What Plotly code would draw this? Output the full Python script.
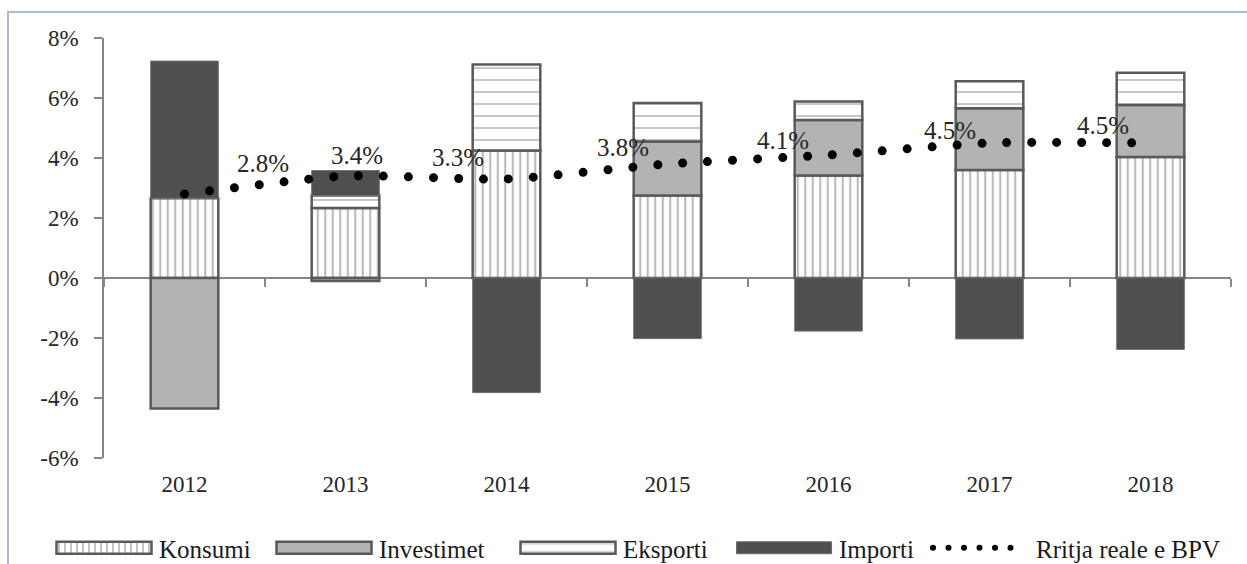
import plotly.graph_objects as go

# ---------------- data ----------------
years = ["2012", "2013", "2014", "2015", "2016", "2017", "2018"]
konsumi = [2.66, 2.33, 4.25, 2.75, 3.42, 3.60, 4.03]
investimet = [-4.35, -0.10, None, 1.80, 1.85, 2.06, 1.74]
eksporti = [None, 0.42, 2.87, 1.28, 0.61, 0.90, 1.07]
importi = [4.57, 0.83, -3.82, -2.02, -1.77, -2.03, -2.38]
rritja = [2.8, 3.4, 3.3, 3.8, 4.1, 4.5, 4.5]
series_names = ["Konsumi", "Investimet", "Eksporti", "Importi", "Rritja reale e BPV"]
y_tick_values = [-6, -4, -2, 0, 2, 4, 6, 8]
y_tick_labels = ["-6%", "-4%", "-2%", "0%", "2%", "4%", "6%", "8%"]

# ---------------- style / layout ----------------
W, H = 1247, 564
ML, MR, MT, MB = 104, 16, 38, 106
PW, PH = W - ML - MR, H - MT - MB
FONT = "Liberation Serif"
AX = "#868686"
OUT = "#595959"
YMIN, YMAX = -6, 8
# label offsets (px) relative to each point of the growth line
label_dx = [78, 11, -49, -45, -46, -40, -48]
label_dy = [31, 21, 22, 17, 15, 13, 18]
# legend swatch left edges (px) and vertical centre
legend_left = [56, 276, 520, 736, 933]
legend_cy = 548
SWATCH_W = 95
ITEM_W = 100


def px_x(p):
    return (p - ML) / PW


def px_y(p):
    return (MT + PH - p) / PH


fig = go.Figure()

fig.add_trace(go.Bar(
    x=years, y=konsumi, name=series_names[0], legend="legend",
    marker=dict(color="white", line=dict(color=OUT, width=2.5),
                pattern=dict(shape="|", size=7.5, solidity=0.28,
                             fgcolor="#747474", fillmode="overlay")),
))
fig.add_trace(go.Bar(
    x=years, y=investimet, name=series_names[1], legend="legend2",
    marker=dict(color="#B3B3B3", line=dict(color=OUT, width=2.5)),
))
fig.add_trace(go.Bar(
    x=years, y=eksporti, name=series_names[2], legend="legend3",
    marker=dict(color="white", line=dict(color=OUT, width=2.5),
                pattern=dict(shape="-", size=12, solidity=0.14,
                             fgcolor="#7a7a7a", fillmode="overlay")),
))
fig.add_trace(go.Bar(
    x=years, y=importi, name=series_names[3], legend="legend4",
    marker=dict(color="#4F4F4F", line=dict(color="#6e6e6e", width=1)),
))
fig.add_trace(go.Scatter(
    x=years, y=rritja, name=series_names[4], legend="legend5",
    xaxis="x2", yaxis="y", mode="lines",
    line=dict(color="black", width=9, dash="0px,25px", shape="spline", smoothing=0.6),
))

for i, v in enumerate(rritja):
    fig.add_annotation(x=i, y=v, xref="x", yref="y", text=f"{v:.1f}%",
                       showarrow=False, xshift=label_dx[i], yshift=label_dy[i],
                       font=dict(family=FONT, size=25, color="#262626"))

legend_common = dict(orientation="h", xanchor="left", yanchor="middle",
                     xref="container", yref="container",
                     font=dict(family=FONT, size=25, color="#1a1a1a"),
                     itemwidth=ITEM_W, bgcolor="rgba(0,0,0,0)", borderwidth=0,
                     itemclick=False, itemdoubleclick=False)
legends = {}
for k, left in enumerate(legend_left):
    key = "legend" if k == 0 else f"legend{k + 1}"
    legends[key] = dict(legend_common, x=(left - 7) / W, y=1 - legend_cy / H)

# chart-area border (light blue, cropped at right and bottom)
fig.add_shape(type="rect", xref="paper", yref="paper",
              x0=px_x(8), x1=px_x(W + 20), y0=px_y(H + 20), y1=px_y(12),
              line=dict(color="#A9BED4", width=2), fillcolor="rgba(0,0,0,0)", layer="below")

fig.update_layout(
    width=W, height=H,
    margin=dict(l=ML, r=MR, t=MT, b=MB, autoexpand=False),
    paper_bgcolor="white", plot_bgcolor="white",
    barmode="relative", bargap=0.58,
    showlegend=True,
    **legends,
    xaxis=dict(type="category", categoryorder="array", categoryarray=years,
               range=[-0.5, 6.5], showline=False, showgrid=False, zeroline=False,
               ticks="", ticklabelstandoff=10, automargin=False,
               tickfont=dict(family=FONT, size=23, color="#262626")),
    xaxis2=dict(type="category", categoryorder="array", categoryarray=years,
                range=[-0.5, 6.5], overlaying="x", anchor="free", side="bottom",
                position=(0 - YMIN) / (YMAX - YMIN), automargin=False,
                showline=False, showgrid=False, zeroline=False, showticklabels=False,
                ticks="outside", ticklen=8, tickwidth=1.5, tickcolor=AX,
                tickson="boundaries"),
    yaxis=dict(range=[YMIN, YMAX], tickmode="array", tickvals=y_tick_values,
               ticktext=y_tick_labels, automargin=False,
               showgrid=False, showline=True, linecolor=AX, linewidth=1.5,
               ticks="outside", ticklen=8, tickwidth=1.5, tickcolor=AX,
               zeroline=True, zerolinecolor=AX, zerolinewidth=1.5,
               ticklabelstandoff=11,
               tickfont=dict(family=FONT, size=23, color="#262626")),
)

post = """
document.body.style.margin = '0';
document.documentElement.style.margin = '0';
var gd = document.getElementById('{plot_id}');
function fixStyle(){
  gd.querySelectorAll('.legendpoints path').forEach(function(p){
    var d = p.getAttribute('d') || '';
    if (d.indexOf('M6,6H-6V-6H6Z') === 0 || p.classList.contains('legendundefined') || p.classList.contains('legendbar')) {
      p.setAttribute('d','M%s,6H-%s V-6H%sZ'.replace(/%s/g, '%HALF%'));
    }
  });
  gd.querySelectorAll('path.js-line').forEach(function(p){
    p.style.strokeLinecap = 'round';
  });
  gd.querySelectorAll('.legendlines path').forEach(function(p){
    if (!p.dataset.orig) { p.dataset.orig = p.getAttribute('d') || 'M5,0h30'; }
    var m = /M\\s*([-\\d.]+)/.exec(p.dataset.orig);
    var x0 = m ? parseFloat(m[1]) : 5;
    p.setAttribute('d', 'M' + (x0 + 2) + ',0h93');
    p.style.strokeDasharray = '0px,15.5px';
    p.style.strokeWidth = '6px';
    p.style.strokeLinecap = 'round';
  });
}
fixStyle();
if (gd.on) { gd.on('plotly_afterplot', fixStyle); }
setTimeout(fixStyle, 50);
setTimeout(fixStyle, 300);
""".replace("%HALF%", str(SWATCH_W / 2))

fig.write_html("out.html", post_script=post, config={"displayModeBar": False})
